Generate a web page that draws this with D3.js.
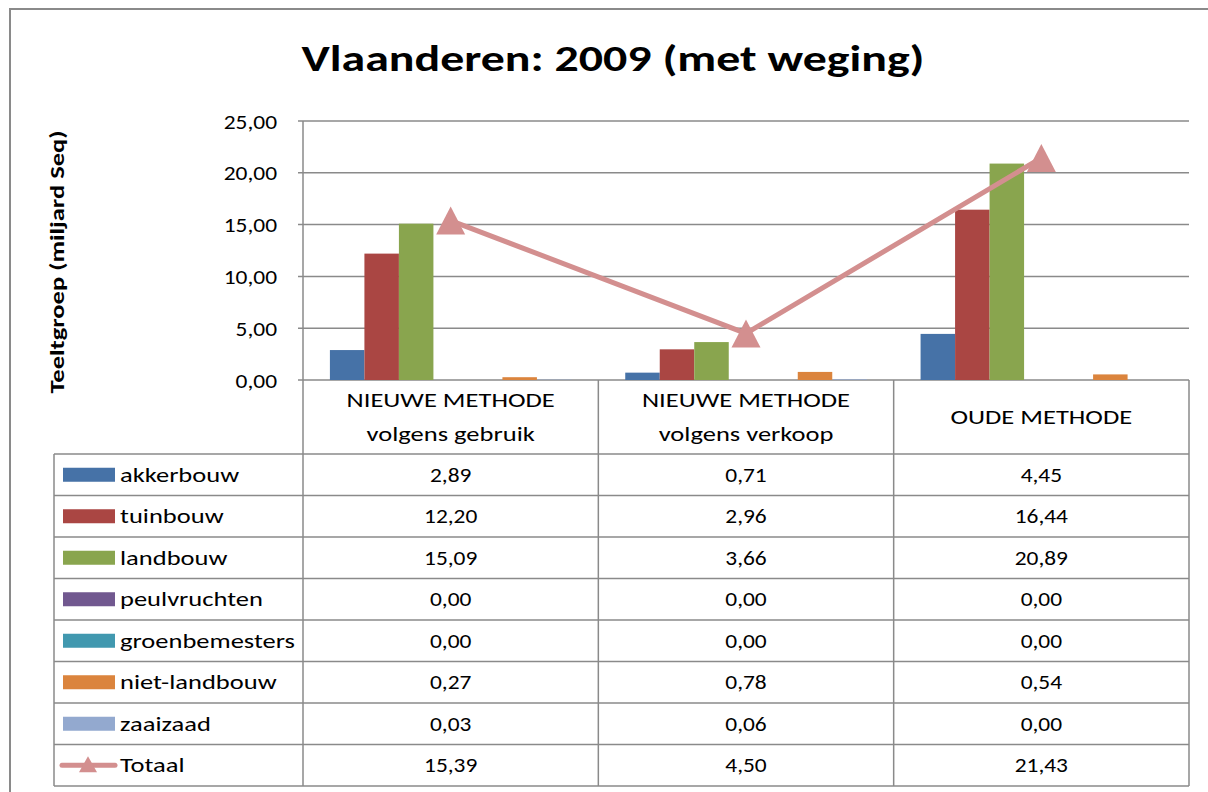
<!DOCTYPE html>
<html>
<head>
<meta charset="utf-8">
<script src="https://cdn.jsdelivr.net/npm/d3@7"></script>
<style>
  body { margin: 0; background: #fff; }
  svg { display: block; font-family: Calibri, Carlito, Lato, sans-serif; }
</style>
</head>
<body>
<svg id="chart" width="1208" height="792"></svg>
<script>
// Data
const categories = [
  ['NIEUWE METHODE', 'volgens gebruik'],
  ['NIEUWE METHODE', 'volgens verkoop'],
  ['OUDE METHODE']
];
const seriesNames = ['akkerbouw', 'tuinbouw', 'landbouw', 'peulvruchten', 'groenbemesters', 'niet-landbouw', 'zaaizaad'];
const seriesColors = ['#4672A7', '#AA4643', '#89A54E', '#71588F', '#4198AF', '#DB843D', '#93A9CF'];
const akkerbouw = [2.89, 0.71, 4.45];
const tuinbouw = [12.20, 2.96, 16.44];
const landbouw = [15.09, 3.66, 20.89];
const peulvruchten = [0.00, 0.00, 0.00];
const groenbemesters = [0.00, 0.00, 0.00];
const nietLandbouw = [0.27, 0.78, 0.54];
const zaaizaad = [0.03, 0.06, 0.00];
const totaal = [15.39, 4.50, 21.43];
const yTicks = [0, 5, 10, 15, 20, 25];
const totaalColor = '#D38F8F';

const seriesValues = [akkerbouw, tuinbouw, landbouw, peulvruchten, groenbemesters, nietLandbouw, zaaizaad];
const fmt = v => v.toFixed(2).replace('.', ',');

const svg = d3.select('#chart');
const grid = '#8a8a8a';

// the fallback font is narrower than the original, so stretch text sideways
const WORD_K = 1.36, NUM_K = 1.2;
function label(parent, x, y, str, opts = {}) {
  const k = opts.k || WORD_K;
  const rot = opts.rotate ? ` rotate(${opts.rotate})` : '';
  return parent.append('text')
    .attr('transform', `translate(${x},${y})${rot} scale(${k},1)`)
    .attr('text-anchor', opts.anchor || 'start')
    .style('font-size', (opts.size || 19.5) + 'px')
    .style('font-weight', opts.bold ? 'bold' : 'normal')
    .text(str);
}

// outer frame
svg.append('rect').attr('x', 10).attr('y', 9).attr('width', 1230).attr('height', 820)
  .attr('fill', 'none').attr('stroke', grid).attr('stroke-width', 2);

// title
label(svg, 613, 71, 'Vlaanderen: 2009 (met weging)', { size: 36, bold: true, anchor: 'middle', k: 1.33 });

const plotLeft = 303, plotRight = 1189, tableLeft = 54;
const y = d3.scaleLinear().domain([0, 25]).range([380, 121]);
const x = d3.scaleBand().domain(d3.range(categories.length)).range([plotLeft, plotRight]);
const xs = d3.scaleBand().domain(d3.range(seriesNames.length)).range([0, x.bandwidth()]).paddingOuter(0.78);

// gridlines
svg.append('g').selectAll('line').data(yTicks).join('line')
  .attr('x1', plotLeft - 5).attr('x2', plotRight).attr('y1', d => y(d)).attr('y2', d => y(d))
  .attr('stroke', grid).attr('stroke-width', 1.5);

// y tick labels
yTicks.forEach(t => label(svg, 277, y(t) + 7.5, fmt(t), { anchor: 'end', k: NUM_K }));

// y axis title
label(svg, 64, 262, 'Teeltgroep (miljard Seq)', { rotate: -90, bold: true, anchor: 'middle' });

// bars
seriesValues.forEach((vals, si) => {
  svg.append('g').selectAll('rect').data(vals).join('rect')
    .attr('x', (d, ci) => x(ci) + xs(si)).attr('width', xs.bandwidth())
    .attr('y', d => y(d)).attr('height', d => y(0) - y(d))
    .attr('fill', seriesColors[si]);
});

// table
const headerBottom = 454, rowH = 41.5;
const rowCount = seriesNames.length + 1;
const tableBottom = headerBottom + rowH * rowCount;
const tg = svg.append('g').attr('stroke', grid).attr('stroke-width', 1.5);
tg.append('line').attr('x1', plotLeft).attr('x2', plotLeft).attr('y1', y(25)).attr('y2', tableBottom);
tg.append('line').attr('x1', tableLeft).attr('x2', tableLeft).attr('y1', headerBottom).attr('y2', tableBottom);
d3.range(1, categories.length + 1).forEach(i => {
  const xx = i < categories.length ? x(i) : plotRight;
  tg.append('line').attr('x1', xx).attr('x2', xx).attr('y1', y(0)).attr('y2', tableBottom);
});
d3.range(rowCount + 1).forEach(r => {
  const yy = headerBottom + r * rowH;
  tg.append('line').attr('x1', tableLeft).attr('x2', plotRight).attr('y1', yy).attr('y2', yy);
});

// category headers
categories.forEach((lines, ci) => {
  const cx = x(ci) + x.bandwidth() / 2;
  const mid = (y(0) + headerBottom) / 2;
  lines.forEach((ln, li) => {
    label(svg, cx, mid + 7 + (li - (lines.length - 1) / 2) * 34, ln, { anchor: 'middle' });
  });
});

// rows
const rows = seriesNames.map((n, i) => ({ name: n, color: seriesColors[i], vals: seriesValues[i] }))
  .concat([{ name: 'Totaal', color: totaalColor, vals: totaal, line: true }]);
const tri = 'M0,-14L14.5,14L-14.5,14Z';
rows.forEach((row, ri) => {
  const cy = headerBottom + ri * rowH + rowH / 2;
  if (row.line) {
    svg.append('line').attr('x1', 62).attr('x2', 115).attr('y1', cy).attr('y2', cy)
      .attr('stroke', row.color).attr('stroke-width', 5).attr('stroke-linecap', 'round');
    svg.append('path').attr('d', 'M0,-9L9,7L-9,7Z').attr('transform', `translate(88,${cy})`).attr('fill', row.color);
  } else {
    svg.append('rect').attr('x', 63).attr('y', cy - 7).attr('width', 52).attr('height', 14).attr('fill', row.color);
  }
  label(svg, 120, cy + 7, row.name);
  row.vals.forEach((v, ci) => {
    label(svg, x(ci) + x.bandwidth() / 2, cy + 7, fmt(v), { anchor: 'middle', k: NUM_K });
  });
});

// Totaal line
const line = d3.line().x((d, i) => x(i) + x.bandwidth() / 2).y(d => y(d));
svg.append('path').datum(totaal).attr('d', line).attr('fill', 'none')
  .attr('stroke', totaalColor).attr('stroke-width', 5);
svg.append('g').selectAll('path').data(totaal).join('path')
  .attr('d', tri).attr('fill', totaalColor)
  .attr('transform', (d, i) => `translate(${x(i) + x.bandwidth() / 2},${y(d)})`);
</script>
</body>
</html>
